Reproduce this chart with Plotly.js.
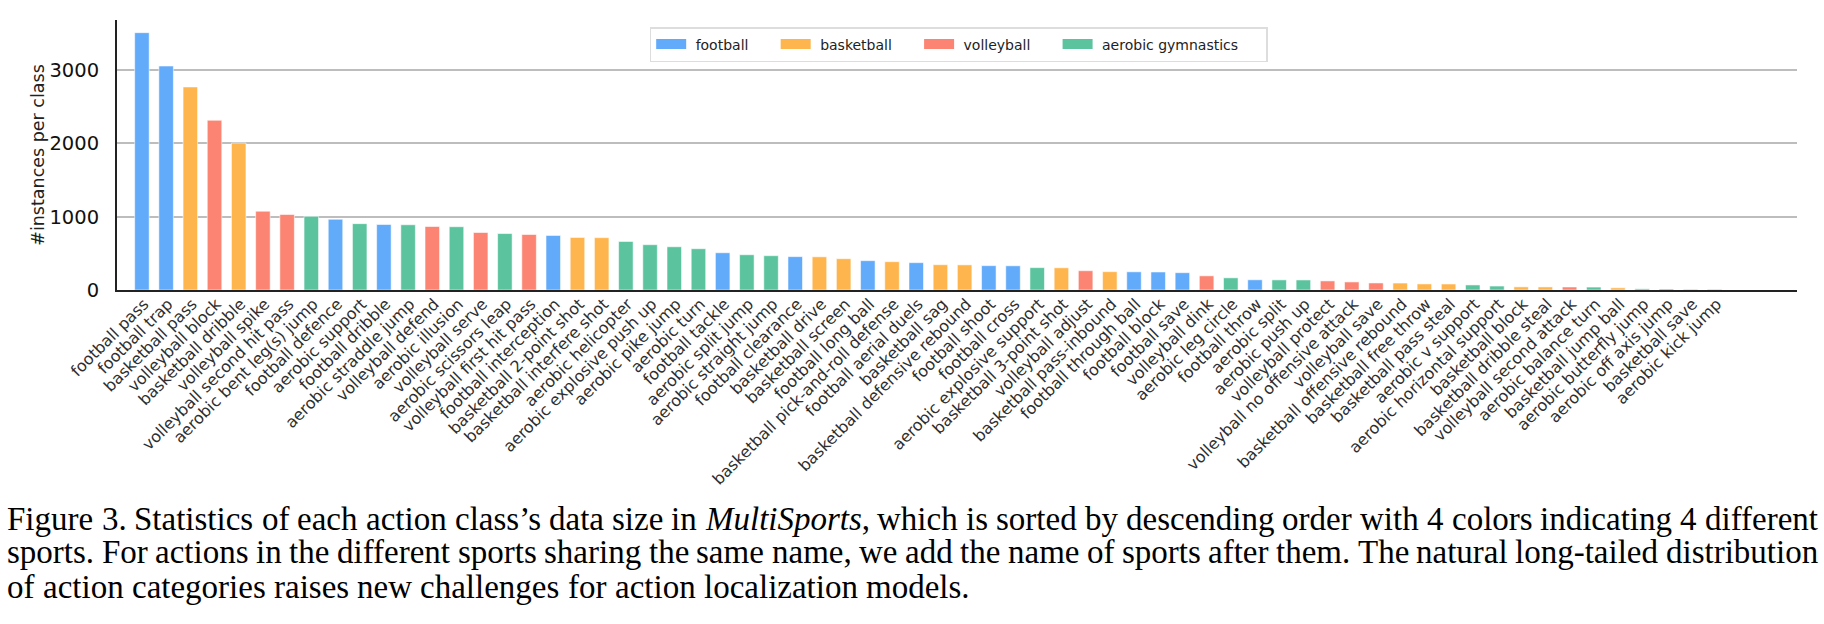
<!DOCTYPE html>
<html>
<head>
<meta charset="utf-8">
<script src="https://cdn.plot.ly/plotly-3.0.1.min.js"></script>
<style>
html,body{margin:0;padding:0;background:#fff;}
#chart{width:1824px;height:624px;}
</style>
</head>
<body>
<div id="chart"></div>
<script>
// ---------------- data ----------------
const categories = [
  "football pass","football trap","basketball pass","volleyball block","basketball dribble",
  "volleyball spike","volleyball second hit pass","aerobic bent leg(s) jump","football defence","aerobic support",
  "football dribble","aerobic straddle jump","volleyball defend","aerobic illusion","volleyball serve",
  "aerobic scissors leap","volleyball first hit pass","football interception","basketball 2-point shot","basketball interfere shot",
  "aerobic helicopter","aerobic explosive push up","aerobic pike jump","aerobic turn","football tackle",
  "aerobic split jump","aerobic straight jump","football clearance","basketball drive","basketball screen",
  "football long ball","basketball pick-and-roll defense","football aerial duels","basketball sag","basketball defensive rebound",
  "football shoot","football cross","aerobic explosive support","basketball 3-point shot","volleyball adjust",
  "basketball pass-inbound","football through ball","football block","football save","volleyball dink",
  "aerobic leg circle","football throw","aerobic split","aerobic push up","volleyball protect",
  "volleyball no offensive attack","volleyball save","basketball offensive rebound","basketball free throw","basketball pass steal",
  "aerobic v support","aerobic horizontal support","basketball block","basketball dribble steal","volleyball second attack",
  "aerobic balance turn","basketball jump ball","aerobic butterfly jump","aerobic off axis jump","basketball save",
  "aerobic kick jump"
];
const counts = [
  3510, 3055, 2770, 2315, 2005,
  1075, 1030, 1005, 965, 905,
  893, 890, 866, 863, 784,
  770, 757, 744, 717, 714,
  662, 618, 590, 563, 508,
  481, 468, 455, 453, 427,
  400, 386, 373, 345, 343,
  332, 330, 305, 303, 263,
  250, 248, 246, 236, 193,
  166, 139, 138, 137, 124,
  110, 96, 95, 83, 82,
  69, 54, 43, 42, 41,
  40, 30, 16, 14, 11,
  9
];
const sportKeys = ["football","basketball","volleyball","aerobic"];
const sportNames = ["football","basketball","volleyball","aerobic gymnastics"];
const sportColors = ["#62aafa","#ffb54d","#fb8472","#5bc49f"];
const yTickVals = [0, 1000, 2000, 3000];
const yTickText = ["0", "1000", "2000", "3000"];
const yTitle = "#instances per class";
const captionLines = [
  "Figure 3. Statistics of each action class’s data size in <i>MultiSports</i>, which is sorted by descending order with 4 colors indicating 4 different",
  "sports. For actions in the different sports sharing the same name, we add the name of sports after them. The natural long-tailed distribution",
  "of action categories raises new challenges for action localization models."
];

// ---------------- geometry ----------------
const W = 1824, H = 624;
const M = {l: 116.7, r: 27, t: 20, b: 334};
const plotW = W - M.l - M.r, plotH = H - M.t - M.b;

// ---------------- traces ----------------
const traces = [];
sportKeys.forEach((k, si) => {
  const xs = [], ys = [];
  categories.forEach((c, i) => {
    if (c.split(" ")[0] === k) { xs.push(c); ys.push(counts[i]); }
  });
  traces.push({
    type: "bar", x: xs, y: ys, width: 0.6, name: sportNames[si],
    marker: {color: sportColors[si], line: {color: "rgba(255,255,255,0.55)", width: 1}},
    showlegend: false, hoverinfo: "x+y"
  });
});
// legend-only swatches (placed below the visible y range, so only the legend shows them)
sportNames.forEach((n, si) => {
  traces.push({
    type: "scatter", mode: "lines",
    x: [categories[0], categories[1]], y: [-1000, -1000],
    name: "\u00a0" + n + "\u00a0\u00a0\u00a0\u00a0\u00a0",
    line: {color: sportColors[si], width: 11},
    showlegend: true, hoverinfo: "skip"
  });
});

// ---------------- caption (justified words) ----------------
const ctx = document.createElement("canvas").getContext("2d");
const capSize = 33, capFam = "Liberation Serif";
function measureWord(w) {
  let total = 0;
  const re = /<i>(.*?)<\/i>/g;
  let last = 0, m;
  while ((m = re.exec(w)) !== null) {
    if (m.index > last) { ctx.font = capSize + "px '" + capFam + "'"; total += ctx.measureText(w.slice(last, m.index)).width; }
    ctx.font = "italic " + capSize + "px '" + capFam + "'"; total += ctx.measureText(m[1]).width;
    last = re.lastIndex;
  }
  if (last < w.length) { ctx.font = capSize + "px '" + capFam + "'"; total += ctx.measureText(w.slice(last)).width; }
  return total;
}
const capX0 = 6, capX1 = 1817;
const capY = [519, 552, 587];
const annotations = [];
captionLines.forEach((line, li) => {
  const words = line.split(" ");
  const widths = words.map(measureWord);
  const sum = widths.reduce((a, b) => a + b, 0);
  ctx.font = capSize + "px '" + capFam + "'";
  let gap = ctx.measureText(" ").width;
  if (li < captionLines.length - 1) gap = (capX1 - capX0 - sum) / (words.length - 1);
  let x = capX0;
  words.forEach((w, wi) => {
    annotations.push({
      xref: "paper", yref: "paper",
      x: (x - M.l - 1) / plotW, y: (M.t + plotH - capY[li]) / plotH,
      xanchor: "left", yanchor: "middle", showarrow: false,
      text: w, font: {family: capFam, size: capSize, color: "#000"}
    });
    x += widths[wi] + gap;
  });
});

// ---------------- layout ----------------
const layout = {
  width: W, height: H,
  margin: {l: M.l, r: M.r, t: M.t, b: M.b, pad: 0},
  paper_bgcolor: "#fff", plot_bgcolor: "#fff",
  barmode: "overlay",
  font: {family: "DejaVu Sans", color: "#222"},
  xaxis: {
    type: "category", categoryorder: "array", categoryarray: categories,
    range: [-1.03, 68.4], fixedrange: true,
    tickangle: -45, ticks: "", ticklabelshift: 2, ticklabelstandoff: -4,
    tickfont: {family: "DejaVu Sans", size: 16, color: "#2e2e2e"},
    showline: true, linecolor: "#222", linewidth: 2.4,
    showgrid: false, zeroline: false
  },
  yaxis: {
    range: [0, 3683], fixedrange: true,
    tickmode: "array", tickvals: yTickVals, ticktext: yTickText,
    ticks: "", ticklabelstandoff: 12,
    tickfont: {family: "DejaVu Sans", size: 19.5, color: "#111"},
    showline: true, linecolor: "#222", linewidth: 2,
    showgrid: true, gridcolor: "#bdbdbd", gridwidth: 1.8, zeroline: false,
    title: {text: yTitle, font: {family: "DejaVu Sans", size: 17.5, color: "#222"}, standoff: 0}
  },
  legend: {
    orientation: "h", x: 0.501, xanchor: "center", y: 0.974, yanchor: "top",
    bgcolor: "#fff", bordercolor: "#dddddd", borderwidth: 1.5,
    font: {family: "DejaVu Sans", size: 14, color: "#222"},
    itemclick: false, itemdoubleclick: false
  },
  annotations: annotations,
  showlegend: true
};

Plotly.newPlot("chart", traces, layout, {displayModeBar: false, staticPlot: true});
</script>
</body>
</html>
